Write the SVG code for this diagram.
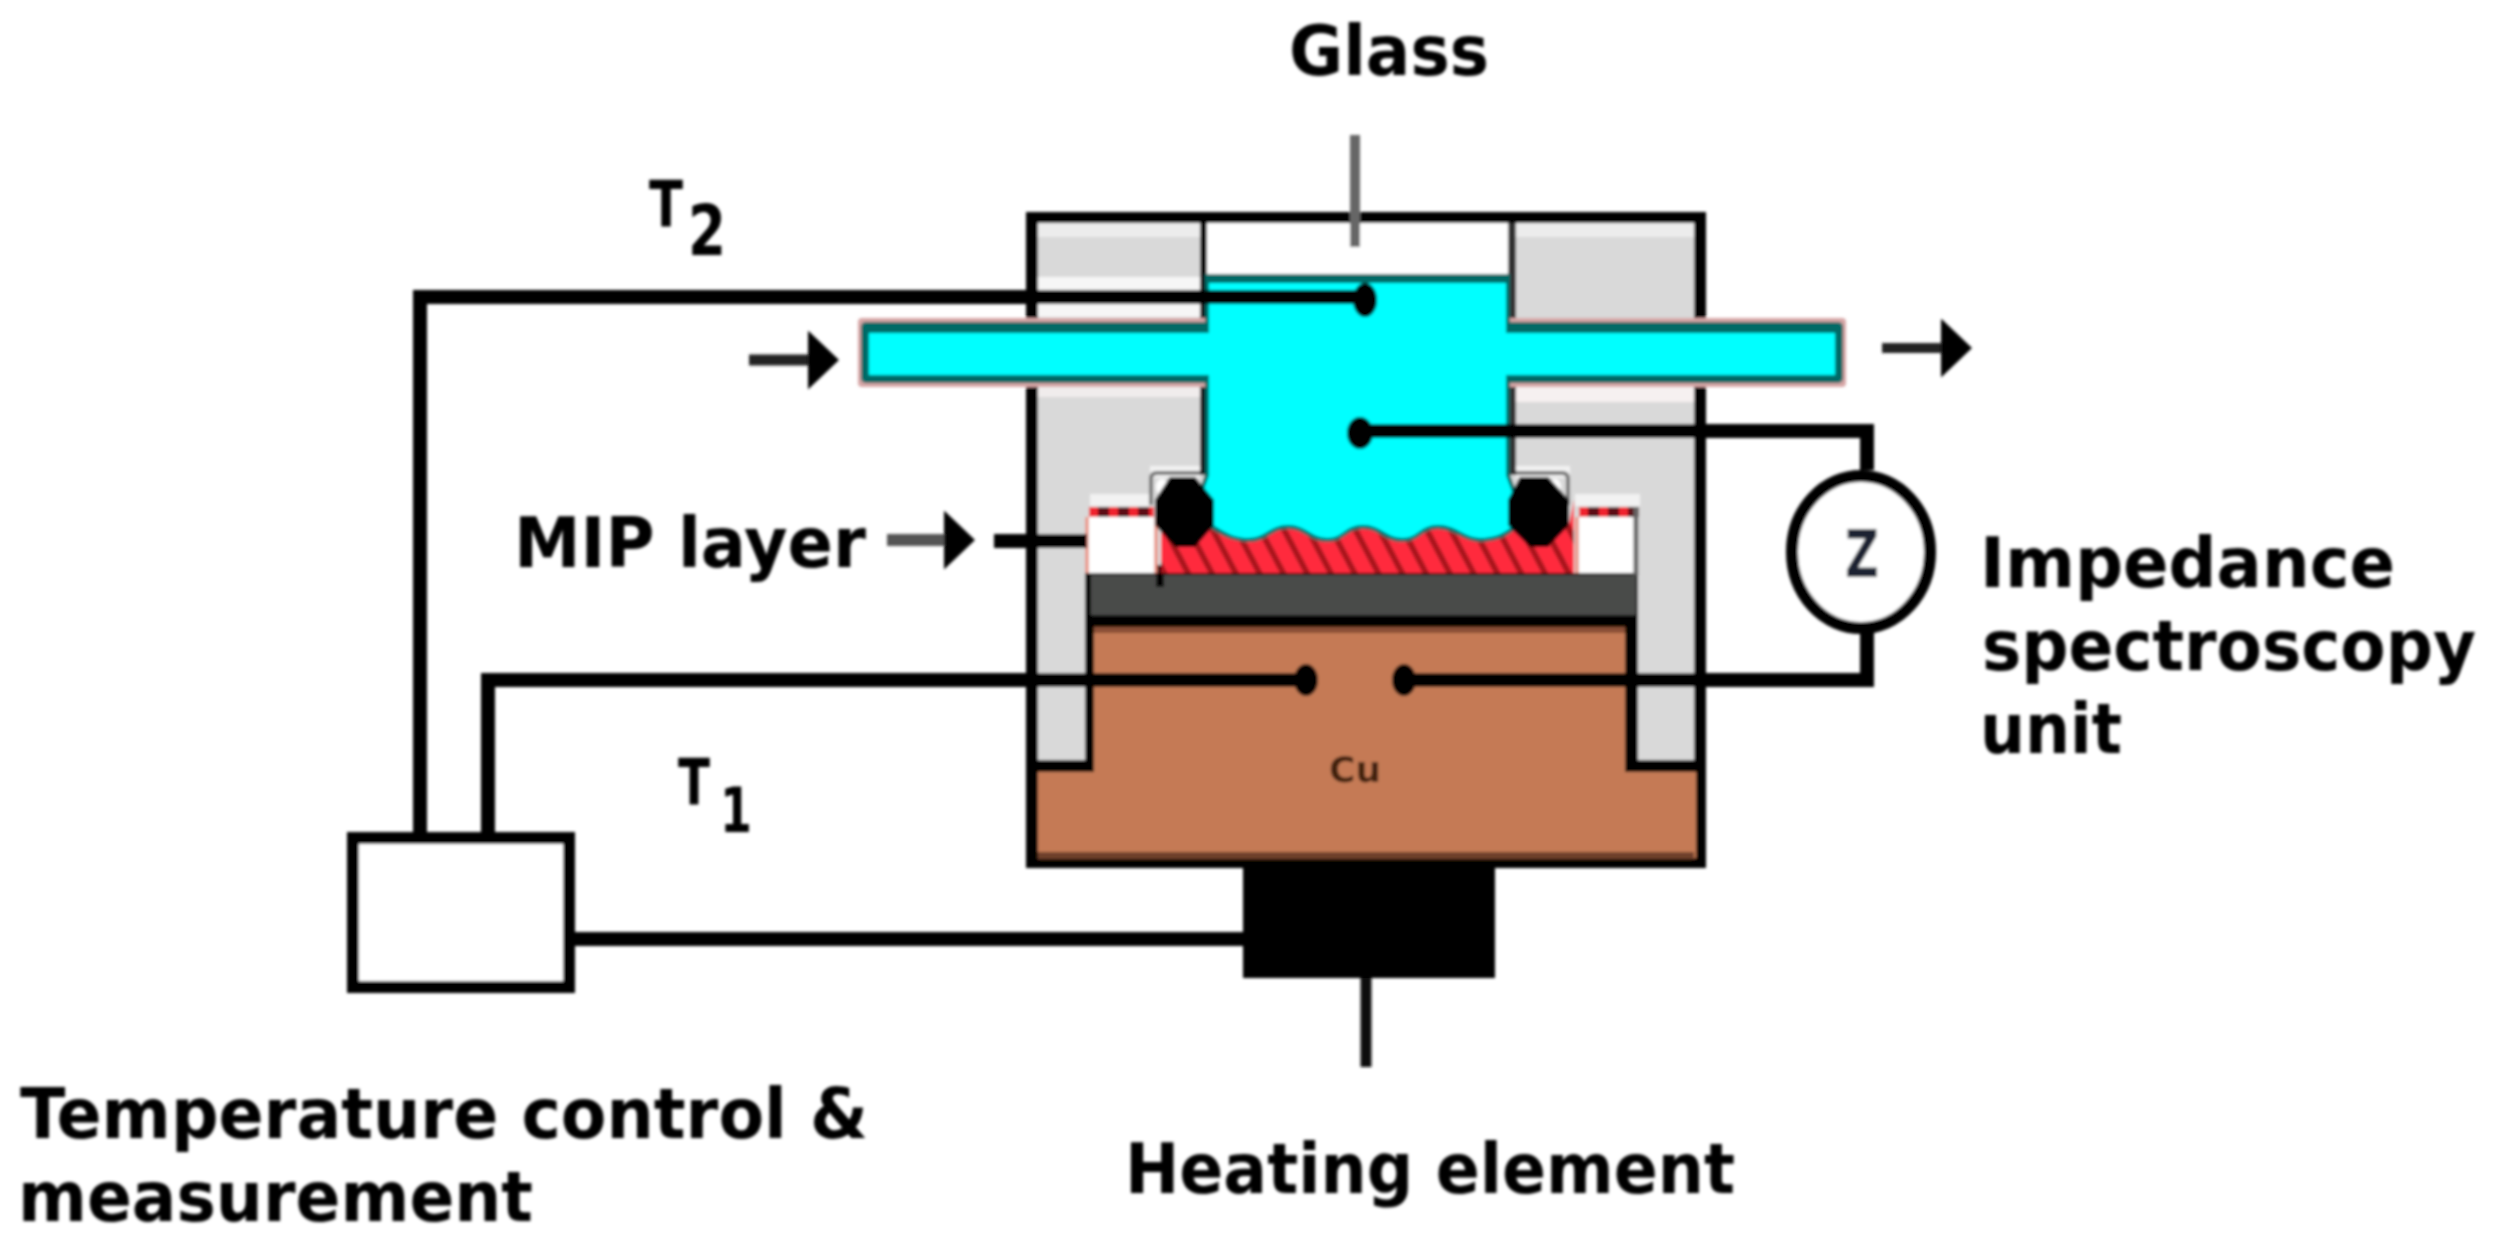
<svg xmlns="http://www.w3.org/2000/svg" width="2493" height="1243" viewBox="0 0 2493 1243">
<defs>
<style>
.t{font-family:"DejaVu Sans","Liberation Sans",sans-serif;font-weight:700;font-size:70px;fill:#000}
.w{fill:none;stroke:#000;stroke-width:14}
.h{fill:none;stroke:#fff;stroke-opacity:.75;stroke-width:40}
.a{fill:#000}
</style>
<filter id="soft" x="0" y="0" width="100%" height="100%" filterUnits="userSpaceOnUse"><feGaussianBlur stdDeviation="1.4"/></filter>
<pattern id="hatch" width="21" height="21" patternUnits="userSpaceOnUse" patternTransform="rotate(-28)">
<rect width="21" height="21" fill="#ff2b3d"/><rect x="0" width="6" height="21" fill="#a8191f"/>
</pattern>
<marker id="flow" viewBox="0 0 31 59" markerUnits="userSpaceOnUse" markerWidth="31" markerHeight="59" refX="2" refY="29.5" orient="auto"><path d="M0 0L31 29.500L0 59Z" fill="#000"/></marker>
</defs>
<rect width="2493" height="1243" fill="#fff"/>
<g filter="url(#soft)">
<g id="cell">
<rect x="1026" y="212" width="680" height="656" fill="#000"/>
<rect x="1038" y="223" width="656" height="637" fill="#d9d9d9"/>
<rect x="1038" y="223" width="656" height="14" fill="#ececec"/>
<path class="h" d="M1038 297H1200"/>
<path d="M1516 392H1694" stroke="#f6f0f0" stroke-width="20" fill="none"/>
<path d="M1038 392H1200" stroke="#f0ecec" stroke-width="10" fill="none"/>
<path d="M1150 472H1200M1516 472H1570M1090 500H1150M1575 500H1640" stroke="#f2f2f2" stroke-width="12" fill="none"/>
<rect x="1200" y="223" width="7" height="252" fill="#111"/>
<rect x="1508" y="223" width="8" height="252" fill="#333"/>
<rect x="1207" y="223" width="301" height="60" fill="#fff"/>
</g>
<g id="copper-block">
<path d="M1085 573H1638V760H1694V860H1038V760H1085Z" fill="#000"/>
<path d="M1094 627H1625V772H1696V858H1038V772H1094Z" fill="#c57a55"/>
<rect x="1038" y="852" width="656" height="7" fill="#6e3f2a"/>
<rect x="1094" y="627" width="531" height="6" fill="#8a5034"/>
<rect x="1091" y="575" width="545" height="40" fill="#4a4c4a"/>
<rect x="1156" y="565" width="8" height="22" fill="#000"/>
<text class="t" x="1329" y="782" textLength="52" lengthAdjust="spacingAndGlyphs" style="font-size:36px;fill:#42200e">Cu</text>
</g>
<g id="mip-layer">
<rect x="1089" y="507" width="65" height="66" fill="#fff"/>
<rect x="1579" y="507" width="60" height="66" fill="#fff"/>
<path d="M1089 512H1154M1579 512H1639" stroke="#5b0e12" stroke-width="10" fill="none"/>
<path d="M1089 512H1154M1579 512H1639" stroke="#f0202f" stroke-width="10" stroke-dasharray="9 11" fill="none"/>
<path d="M1087 517V573M1156 517V573M1577 517V573" stroke="#e87" stroke-width="3" fill="none"/>
<path d="M1636 507V575" stroke="#666" stroke-width="5" fill="none"/>
<path d="M1161 525H1569L1574 500V573H1161Z" fill="url(#hatch)"/>
</g>
<g id="flow-cell">
<rect x="858" y="318" width="988" height="69" rx="4" fill="#d7a6a6"/>
<rect x="861" y="322" width="982" height="61" rx="5" fill="#006a66"/>
<rect x="869" y="333" width="966" height="42" fill="#0ff"/>
<path d="M1207 276H1508V475L1517 500 1516 526C1505 536 1495 540 1479 540C1463 540 1456 527 1438 527C1420 527 1420 540 1402 540C1384 540 1381 527 1363 527C1345 527 1345 540 1327 540C1309 540 1306 527 1288 527C1270 527 1267 540 1249 540C1235 540 1225 536 1208 524L1198 500 1207 475Z" fill="#0ff" stroke="#006a66" stroke-width="4"/>
<rect x="1207" y="275" width="301" height="8" fill="#006a66"/>
<rect x="1204" y="333" width="308" height="42" fill="#0ff"/>
</g>
<g id="o-rings">
<path d="M1200 473H1157Q1151 473 1151 479V505M1516 473H1562Q1568 473 1568 479V505" fill="none" stroke="#777" stroke-width="4"/>
<ellipse cx="1162" cy="487" rx="6" ry="8" fill="#fff"/>
<ellipse cx="1555" cy="487" rx="6" ry="8" fill="#fff"/>
<path d="M1170 477H1195L1214 500V525L1195 547H1175L1155 525V500Z" fill="#000"/>
<path d="M1520 477H1548L1569 500V525L1548 547H1530L1508 525V500Z" fill="#000"/>
</g>
<g id="connectors">
<path class="w" d="M420 832V297H1365"/>
<path class="w" d="M488 832V680H1306"/>
<path class="w" d="M1360 431H1867V470"/>
<path class="w" d="M1404 680H1867V630"/>
<path class="w" d="M575 939H1243"/>
<path class="w" d="M994 541H1087"/>
<path d="M1355 135V247" stroke="#666" stroke-width="10" fill="none"/>
<path d="M1366 978V1067" stroke="#111" stroke-width="11" fill="none"/>
<path d="M749 360H810" stroke="#222" stroke-width="11" marker-end="url(#flow)"/>
<path d="M1882 348H1943" stroke="#222" stroke-width="10" marker-end="url(#flow)"/>
<path d="M887 540H946" stroke="#555" stroke-width="12" marker-end="url(#flow)"/>
<ellipse class="a" cx="1365" cy="300" rx="12" ry="17"/>
<ellipse class="a" cx="1360" cy="433" rx="13" ry="16"/>
<ellipse class="a" cx="1306" cy="680" rx="12" ry="16"/>
<ellipse class="a" cx="1404" cy="680" rx="12" ry="16"/>
</g>
<g id="controller"><rect x="353" y="838" width="216" height="149" fill="#fff" stroke="#000" stroke-width="12"/></g>
<g id="heater"><rect x="1243" y="860" width="252" height="118" fill="#000"/></g>
<g id="impedance-meter">
<ellipse cx="1861" cy="552" rx="69" ry="76" fill="#fff" stroke="#000" stroke-width="12"/>
<text class="t" x="1845" y="577" textLength="34" lengthAdjust="spacingAndGlyphs" style="font-size:66px;fill:#1a2430">Z</text>
</g>
<g id="labels">
<text class="t" x="1289" y="75" textLength="200" lengthAdjust="spacingAndGlyphs">Glass</text>
<text class="t" x="649" y="227" textLength="34" lengthAdjust="spacingAndGlyphs" style="font-size:64px">T</text>
<text class="t" x="688" y="255" textLength="38" lengthAdjust="spacingAndGlyphs">2</text>
<text class="t" x="678" y="805" textLength="32" lengthAdjust="spacingAndGlyphs" style="font-size:64px">T</text>
<text class="t" x="720" y="832" textLength="32" lengthAdjust="spacingAndGlyphs" style="font-size:62px">1</text>
<text class="t" x="514" y="567" textLength="352" lengthAdjust="spacingAndGlyphs">MIP layer</text>
<text class="t" x="1980" y="587" textLength="415" lengthAdjust="spacingAndGlyphs">Impedance</text>
<text class="t" x="1982" y="670" textLength="494" lengthAdjust="spacingAndGlyphs">spectroscopy</text>
<text class="t" x="1980" y="753" textLength="142" lengthAdjust="spacingAndGlyphs">unit</text>
<text class="t" x="20" y="1138" textLength="848" lengthAdjust="spacingAndGlyphs">Temperature control &amp;</text>
<text class="t" x="18" y="1221" textLength="515" lengthAdjust="spacingAndGlyphs">measurement</text>
<text class="t" x="1125" y="1193" textLength="610" lengthAdjust="spacingAndGlyphs">Heating element</text>
</g>
</g>
</svg>
